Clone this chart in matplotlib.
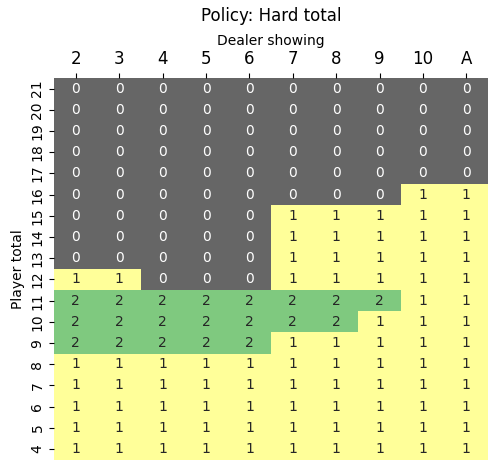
import matplotlib
matplotlib.use("Agg")
import matplotlib.pyplot as plt
import numpy as np
import pandas as pd
import seaborn as sns

dealer = ["2", "3", "4", "5", "6", "7", "8", "9", "10", "A"]
player = list(range(21, 3, -1))

# 0 = stick, 1 = hit, 2 = double
policy = [
    [0, 0, 0, 0, 0, 0, 0, 0, 0, 0],  # 21
    [0, 0, 0, 0, 0, 0, 0, 0, 0, 0],  # 20
    [0, 0, 0, 0, 0, 0, 0, 0, 0, 0],  # 19
    [0, 0, 0, 0, 0, 0, 0, 0, 0, 0],  # 18
    [0, 0, 0, 0, 0, 0, 0, 0, 0, 0],  # 17
    [0, 0, 0, 0, 0, 0, 0, 0, 1, 1],  # 16
    [0, 0, 0, 0, 0, 1, 1, 1, 1, 1],  # 15
    [0, 0, 0, 0, 0, 1, 1, 1, 1, 1],  # 14
    [0, 0, 0, 0, 0, 1, 1, 1, 1, 1],  # 13
    [1, 1, 0, 0, 0, 1, 1, 1, 1, 1],  # 12
    [2, 2, 2, 2, 2, 2, 2, 2, 1, 1],  # 11
    [2, 2, 2, 2, 2, 2, 2, 1, 1, 1],  # 10
    [2, 2, 2, 2, 2, 1, 1, 1, 1, 1],  # 9
    [1, 1, 1, 1, 1, 1, 1, 1, 1, 1],  # 8
    [1, 1, 1, 1, 1, 1, 1, 1, 1, 1],  # 7
    [1, 1, 1, 1, 1, 1, 1, 1, 1, 1],  # 6
    [1, 1, 1, 1, 1, 1, 1, 1, 1, 1],  # 5
    [1, 1, 1, 1, 1, 1, 1, 1, 1, 1],  # 4
]

df = pd.DataFrame(policy, index=player, columns=dealer)

fig = plt.figure(figsize=(4.88, 4.62), dpi=100)
ax = fig.add_axes([0.111, 0.005, 0.889, 0.826])
sns.heatmap(df, ax=ax, cmap="Accent_r", vmin=0, vmax=2, annot=True,
            cbar=False, annot_kws={"fontsize": 10})
ax.xaxis.tick_top()
ax.xaxis.set_label_position("top")
ax.tick_params(axis="x", labelsize=12)
ax.tick_params(axis="y", labelsize=10)
ax.set_xlabel("Dealer showing", fontsize=10)
ax.set_ylabel("Player total", fontsize=10)
ax.set_title("Policy: Hard total", fontsize=12, pad=9)

fig.savefig("out.png")
